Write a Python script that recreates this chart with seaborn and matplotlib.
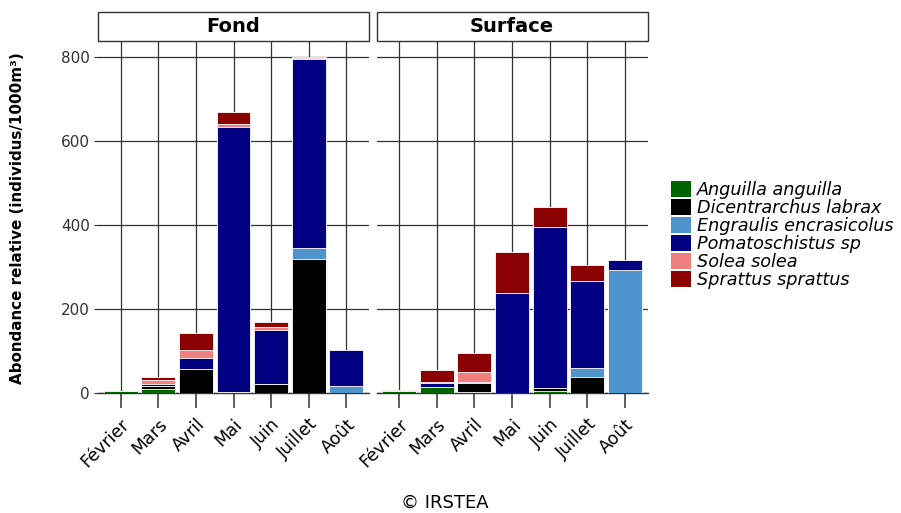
import numpy as np
import pandas as pd
import matplotlib
matplotlib.use("Agg")
import matplotlib.pyplot as plt
import matplotlib.transforms as mtransforms
from matplotlib.patches import Patch, Rectangle
import seaborn as sns

# données (individus / 1000 m3)
mois = ["Février", "Mars", "Avril", "Mai", "Juin", "Juillet", "Août"]
especes = ["Anguilla anguilla", "Dicentrarchus labrax", "Engraulis encrasicolus",
           "Pomatoschistus sp", "Solea solea", "Sprattus sprattus"]
couleurs = ["#006400", "#000000", "#4F94CD", "#000080", "#F08080", "#8B0000"]

fond_anguilla = [5, 10, 0, 0, 0, 0, 0]
fond_dicentrarchus = [0, 8, 58, 2, 22, 321, 0]
fond_engraulis = [0, 0, 0, 0, 0, 25, 18]
fond_pomatoschistus = [0, 5, 25, 633, 128, 451, 86]
fond_solea = [0, 9, 21, 6, 7, 1, 0]
fond_sprattus = [0, 8, 40, 28, 12, 2, 0]

surf_anguilla = [6, 16, 4, 0, 5, 0, 0]
surf_dicentrarchus = [0, 0, 21, 0, 7, 40, 0]
surf_engraulis = [0, 0, 0, 0, 0, 21, 294]
surf_pomatoschistus = [0, 8, 3, 238, 383, 206, 24]
surf_solea = [0, 3, 23, 0, 0, 0, 0]
surf_sprattus = [3, 29, 46, 99, 49, 39, 0]

panneaux = {
    "Fond": [fond_anguilla, fond_dicentrarchus, fond_engraulis,
             fond_pomatoschistus, fond_solea, fond_sprattus],
    "Surface": [surf_anguilla, surf_dicentrarchus, surf_engraulis,
                surf_pomatoschistus, surf_solea, surf_sprattus],
}

rows = []
for zone, series in panneaux.items():
    for esp, vals in zip(especes, series):
        for m, v in zip(mois, vals):
            rows.append({"zone": zone, "mois": m, "espece": esp, "valeur": v})
df = pd.DataFrame(rows)
df["espece"] = pd.Categorical(df["espece"], categories=especes, ordered=True)
df = df.sort_values(["zone", "mois", "espece"])
df["cumul"] = df.groupby(["zone", "mois"], observed=True)["valeur"].cumsum()

sns.set_style("white", {"xtick.bottom": True, "ytick.left": True})
plt.rcParams["font.family"] = ["DejaVu Sans"]
plt.rcParams["text.color"] = "black"

grid_col = "#333333"
W, H = 901, 513
fig = plt.figure(figsize=(W / 100, H / 100), dpi=100)
ax_pos = {"Fond": 98, "Surface": 376.5}
axes = {}
for zone, left in ax_pos.items():
    axes[zone] = fig.add_axes([left / W, (H - 393.3) / H, 271 / W, 352.3 / H])

for zone, ax in axes.items():
    sub = df[df["zone"] == zone]
    # barres empilées : on dessine du cumul le plus haut vers le plus bas
    for esp, col in reversed(list(zip(especes, couleurs))):
        d = sub[sub["espece"] == esp]
        sns.barplot(data=d, x="mois", y="cumul", order=mois, color=col,
                    saturation=1, width=0.9, edgecolor="white", linewidth=0.6,
                    errorbar=None, ax=ax, zorder=3)
    ax.set_xlim(-0.6, 6.6)
    ax.set_ylim(0, 839)
    ax.set_yticks([0, 200, 400, 600, 800])
    ax.set_axisbelow(True)
    ax.grid(True, axis="both", color=grid_col, linewidth=0.9)
    ax.set_xlabel("")
    ax.set_ylabel("")
    for s in ["top", "right", "left"]:
        ax.spines[s].set_visible(False)
    ax.spines["bottom"].set_color(grid_col)
    ax.spines["bottom"].set_linewidth(1.0)
    ax.set_xticks(range(len(mois)))
    ax.set_xticklabels(mois, rotation=45, ha="right", va="top")
    ax.tick_params(axis="x", bottom=True, length=11, width=1.1, color=grid_col,
                   labelsize=12.5, labelcolor="black", pad=3)
    for tk in ax.xaxis.get_major_ticks():
        tk.tick1line.set_visible(True)
        tk.tick1line.set_zorder(5)
    offset = mtransforms.ScaledTranslation(9 / 72, -2 / 72, fig.dpi_scale_trans)
    for lab in ax.get_xticklabels():
        lab.set_transform(lab.get_transform() + offset)

    # bandeau de facette
    h = 29 / 352.3
    ax.add_patch(Rectangle((0, 1.0), 1, h, transform=ax.transAxes,
                           facecolor="white", edgecolor=grid_col,
                           linewidth=1.0, clip_on=False))
    ax.text(0.5, 1.0 + h / 2, zone, transform=ax.transAxes, ha="center",
            va="center", fontsize=14, fontweight="bold", color="black")

axes["Fond"].tick_params(axis="y", left=True, length=3, width=0.8,
                         color=grid_col, labelsize=11, labelcolor="#333333",
                         pad=3)
axes["Surface"].tick_params(axis="y", left=False, length=0, labelleft=False)

fig.text(18 / W, 1 - 218 / H, "Abondance relative (individus/1000m³)",
         rotation=90, ha="center", va="center", fontsize=10.9,
         fontweight="bold", color="black")

handles = [Patch(facecolor=c, edgecolor="none") for c in couleurs]
leg = fig.legend(handles, especes, loc="upper left",
                 bbox_to_anchor=(671 / W, 1 - 181 / H), frameon=False,
                 prop={"style": "italic", "size": 12.7}, labelspacing=0,
                 handlelength=1.15, handleheight=1.0, handletextpad=0.3,
                 borderpad=0, borderaxespad=0)
for t in leg.get_texts():
    t.set_color("black")

fig.text(445 / W, 1 - 503 / H, "© IRSTEA", ha="center", va="center",
         fontsize=13, color="black")

fig.savefig("out.png", dpi=100)
plt.close()
